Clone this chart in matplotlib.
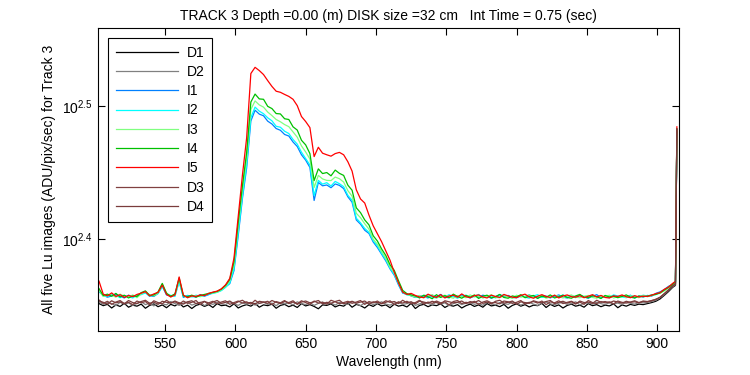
import numpy as np
import matplotlib
matplotlib.use("Agg")
import matplotlib.pyplot as plt
from matplotlib.ticker import FixedLocator, NullLocator, FixedFormatter

plt.rcParams['font.family'] = ['Liberation Sans', 'DejaVu Sans']
plt.rcParams['mathtext.fontset'] = 'custom'
plt.rcParams['mathtext.rm'] = 'Liberation Sans'
plt.rcParams['mathtext.it'] = 'Liberation Sans'
plt.rcParams['mathtext.bf'] = 'Liberation Sans'

# Wavelength grid (nm): 503 ... 911 every 3 nm, then 913 and 914
wavelength = np.append(np.arange(503, 913, 3), [913, 914])

# Series values (ADU/pix/sec)
D1 = [
224.6, 223.8, 224.3, 222.9, 224.1, 223.5, 224.7, 223.2, 224.0, 223.6,
224.4, 222.8, 223.9, 224.5, 223.4, 224.1, 223.0, 224.3, 223.7, 224.8,
223.3, 224.0, 222.7, 223.9, 224.4, 223.5, 224.2, 223.1, 224.6, 223.8,
224.0, 223.3, 224.5, 222.9, 223.7, 224.2, 223.6, 224.7, 223.2, 224.1,
223.8, 224.4, 222.8, 223.9, 224.3, 223.4, 224.0, 223.1, 224.6, 223.7,
224.2, 223.5, 222.6, 224.1, 223.9, 224.5, 223.3, 224.0, 223.6, 224.8,
223.2, 224.3, 223.8, 222.9, 224.2, 223.5, 224.6, 223.7, 224.1, 223.0,
224.4, 223.6, 224.0, 223.3, 224.7, 222.7, 223.9, 224.3, 223.4, 224.1,
223.8, 224.5, 223.1, 224.0, 223.6, 224.2, 222.9, 223.8, 224.4, 223.5,
224.1, 223.2, 224.6, 223.7, 224.0, 223.4, 224.3, 222.8, 223.9, 224.5,
223.6, 224.2, 223.3, 224.0, 223.8, 224.7, 223.1, 224.3, 223.5, 224.1,
222.9, 223.9, 224.4, 223.6, 224.0, 223.2, 224.6, 223.8, 224.2, 223.4,
224.0, 223.7, 224.5, 223.0, 224.1, 223.6, 224.3, 223.9, 224.4, 224.2,
224.6, 225.0, 225.5, 226.4, 227.8, 229.3, 231.0, 231.8, 302.0]

D2 = [
225.2, 224.3, 225.0, 224.6, 223.8, 225.1, 224.4, 224.9, 223.9, 224.7,
225.3, 224.2, 224.8, 223.7, 225.0, 224.5, 224.1, 225.4, 224.6, 223.9,
224.8, 225.2, 224.0, 224.6, 225.1, 223.8, 224.7, 224.3, 225.0, 224.5,
224.2, 225.3, 224.6, 223.9, 224.9, 224.4, 225.1, 224.0, 224.7, 225.2,
224.3, 224.8, 223.8, 225.0, 224.5, 224.9, 224.1, 225.3, 224.6, 224.2,
225.0, 223.9, 224.7, 225.2, 224.4, 224.8, 224.0, 225.1, 224.5, 224.3,
225.4, 224.6, 223.8, 224.9, 225.0, 224.2, 224.7, 225.3, 224.4, 224.0,
224.8, 225.1, 224.3, 224.6, 225.2, 223.9, 224.5, 225.0, 224.7, 224.1,
225.3, 224.4, 224.9, 223.8, 224.6, 225.1, 224.2, 224.8, 225.0, 224.3,
224.7, 223.9, 225.2, 224.5, 224.1, 225.0, 224.6, 224.3, 225.3, 224.8,
224.0, 224.7, 225.1, 224.4, 223.9, 224.9, 225.2, 224.5, 224.2, 224.8,
225.0, 224.3, 224.6, 225.3, 224.1, 224.7, 224.9, 224.4, 225.1, 224.6,
224.2, 225.0, 224.5, 224.8, 224.3, 225.2, 224.7, 224.4, 225.0, 224.9,
225.0, 225.4, 225.9, 226.9, 228.1, 229.7, 231.3, 232.0, 302.5]

I1 = [
229.2, 227.9, 227.1, 227.6, 228.3, 227.5, 226.8, 227.9, 227.3, 227.7,
228.5, 229.0, 227.7, 227.4, 228.6, 231.6, 228.0, 227.6, 227.9, 233.6,
227.0, 227.8, 227.4, 227.2, 228.1, 227.5, 228.1, 228.9, 229.2, 229.9,
231.2, 232.5, 237.8, 252.6, 269.4, 284.0, 308.1, 313.9, 311.8, 310.9,
308.0, 306.5, 304.1, 303.2, 301.0, 300.2, 297.1, 294.8, 290.6, 287.9,
284.3, 268.5, 277.0, 275.4, 275.8, 274.5, 276.3, 275.6, 274.1, 270.2,
267.7, 259.6, 257.7, 255.0, 253.6, 249.9, 247.5, 244.6, 241.8, 238.5,
235.9, 232.0, 228.7, 228.3, 227.6,
227.0, 227.7, 227.4, 226.8, 227.9, 227.3, 228.2, 227.1, 226.9, 227.6,
227.2, 228.0, 227.4, 226.8, 227.7, 227.1, 227.9, 227.5, 226.7, 227.3,
228.1, 227.2, 227.8, 227.0, 226.9, 227.6, 227.3, 228.0, 227.2, 226.8,
227.7, 227.5, 226.9, 227.4, 228.0, 227.1, 226.8, 227.6, 227.3, 227.9,
227.2, 226.7, 227.5, 228.1, 227.0, 227.4, 226.9, 227.8, 227.3, 227.6,
227.1, 227.9, 226.8, 227.5, 227.2,
227.8, 227.5, 228.6, 229.2, 230.1, 231.4, 232.1, 232.9, 301.0]

I2 = [
229.5, 227.6, 227.3, 228.2, 227.8, 226.9, 227.7, 227.4, 226.8, 227.9,
228.1, 228.8, 227.4, 228.0, 228.5, 231.2, 228.3, 227.8, 227.4, 233.2,
227.3, 227.6, 227.2, 227.9, 227.5, 227.6, 228.3, 228.6, 229.0, 229.7,
231.0, 232.8, 238.6, 253.8, 270.5, 285.6, 309.9, 315.6, 313.4, 312.0,
309.8, 308.2, 305.3, 304.8, 302.7, 301.5, 298.4, 296.0, 291.9, 288.7,
285.5, 270.8, 278.0, 276.2, 276.9, 275.3, 277.5, 276.4, 275.0, 270.9,
268.6, 260.4, 258.3, 255.8, 254.1, 250.5, 248.2, 245.0, 242.3, 238.8,
236.2, 232.3, 228.9, 228.0, 227.9,
227.4, 226.9, 227.7, 228.0, 227.1, 226.8, 227.6, 227.2, 228.1, 227.3,
226.7, 227.5, 227.9, 227.0, 227.4, 228.2, 226.9, 227.3, 227.6, 226.8,
227.7, 228.0, 227.2, 226.9, 227.4, 227.8, 227.1, 226.7, 227.6, 228.1,
227.0, 227.4, 226.8, 227.7, 227.3, 228.0, 227.1, 227.5, 226.9, 227.8,
227.3, 227.0, 227.9, 227.4, 226.8, 227.5, 227.1, 228.0, 227.6, 227.2,
226.9, 227.7, 227.5, 227.1, 227.9,
227.6, 228.0, 228.1, 229.0, 229.8, 231.2, 232.4, 233.1, 302.0]

I3 = [
229.8, 227.4, 228.0, 227.9, 227.1, 228.3, 227.5, 227.2, 228.0, 226.9,
228.4, 229.2, 228.1, 227.6, 228.8, 232.1, 228.9, 227.2, 227.9, 234.1,
227.9, 226.9, 227.5, 227.6, 227.3, 228.0, 228.7, 228.8, 229.1, 230.0,
231.4, 233.6, 240.4, 256.9, 273.6, 289.0, 314.3, 319.0, 316.8, 315.6,
312.9, 311.0, 308.9, 307.7, 306.2, 305.1, 302.3, 299.6, 295.1, 292.0,
288.5, 274.6, 280.4, 278.7, 278.0, 277.9, 279.6, 278.8, 277.2, 273.1,
270.5, 262.6, 260.6, 257.9, 255.5, 251.1, 248.9, 245.8, 242.9, 239.3,
236.9, 232.9, 229.2, 228.2, 227.7,
227.1, 227.8, 226.9, 227.5, 228.1, 226.8, 227.4, 227.9, 227.2, 226.7,
227.8, 227.3, 226.9, 228.0, 227.2, 227.6, 226.8, 227.4, 228.1, 227.0,
226.9, 227.7, 227.3, 226.6, 227.9, 227.1, 227.5, 228.0, 226.9, 227.3,
227.8, 226.7, 227.2, 227.9, 227.4, 226.8, 227.6, 228.0, 227.1, 226.9,
227.5, 227.8, 227.0, 226.7, 227.6, 227.2, 227.9, 226.8, 227.3, 227.7,
227.0, 227.6, 227.4, 226.9, 227.8,
227.3, 227.7, 228.4, 228.6, 229.6, 230.7, 232.0, 232.8, 303.0]

I4 = [
230.5, 227.8, 228.3, 227.5, 228.6, 227.2, 227.9, 226.8, 227.6, 227.4,
228.9, 229.6, 227.8, 228.0, 229.2, 232.6, 228.6, 227.5, 228.4, 234.8,
227.6, 227.3, 227.9, 227.1, 227.8, 228.2, 228.5, 229.0, 229.4, 230.3,
231.8, 234.2, 241.5, 258.5, 275.4, 291.7, 318.4, 322.8, 320.1, 319.9,
316.0, 314.8, 312.1, 311.9, 309.3, 308.9, 305.0, 303.3, 298.0, 295.6,
291.2, 277.9, 283.6, 281.3, 281.8, 280.2, 283.0, 281.4, 280.4, 275.7,
273.3, 265.1, 262.9, 259.6, 257.4, 252.6, 250.3, 246.9, 244.1, 240.2,
237.9, 233.7, 229.8, 228.5, 228.0,
227.6, 226.8, 227.9, 227.3, 226.5, 228.1, 227.0, 227.7, 226.9, 228.3,
227.4, 226.7, 227.8, 227.1, 228.0, 226.6, 227.5, 227.9, 226.8, 227.3,
228.2, 227.0, 226.7, 227.6, 227.2, 228.1, 226.9, 227.4, 227.8, 226.6,
227.5, 227.1, 228.0, 226.8, 227.3, 227.9, 227.0, 226.7, 227.6, 228.2,
227.1, 226.9, 227.7, 227.3, 226.6, 227.8, 227.2, 227.5, 226.9, 227.4,
228.0, 227.1, 226.8, 227.6, 227.3,
227.5, 227.9, 228.2, 228.8, 229.9, 231.0, 232.2, 233.2, 304.0]

I5 = [
233.5, 228.3, 227.6, 228.8, 227.4, 228.1, 227.0, 227.8, 227.3, 228.2,
228.7, 229.3, 227.6, 228.4, 229.0, 231.9, 228.2, 227.2, 228.0, 235.2,
227.9, 226.9, 227.6, 227.4, 228.0, 227.7, 228.6, 229.1, 229.5, 230.4,
232.0, 234.6, 243.0, 261.0, 280.5, 299.2, 334.5, 338.1, 336.2, 333.9,
330.4, 327.1, 324.4, 323.8, 322.6, 321.5, 319.9, 316.4, 310.5, 307.8,
304.6, 289.7, 294.4, 291.4, 290.6, 289.9, 291.2, 291.8, 290.6, 287.1,
282.5, 273.5, 269.2, 267.3, 261.8, 257.0, 253.5, 250.0, 246.0, 242.1,
237.1, 232.8, 229.1, 228.2, 228.6,
227.8, 227.2, 226.9, 228.3, 227.5, 227.0, 228.1, 226.8, 227.6, 227.9,
227.1, 228.4, 227.3, 226.9, 227.7, 228.0, 227.2, 226.8, 227.9, 227.4,
227.0, 228.2, 227.6, 227.1, 226.9, 227.8, 228.3, 227.2, 226.7, 227.5,
228.1, 227.4, 227.0, 227.9, 226.8, 227.6, 228.0, 227.3, 227.1, 227.7,
226.9, 227.5, 228.1, 227.2, 227.8, 227.0, 226.8, 227.6, 227.4, 228.0,
227.3, 226.9, 227.7, 227.2, 227.5,
227.4, 227.9, 228.5, 228.9, 230.2, 231.1, 232.6, 233.4, 305.0]

D3 = [
226.0, 224.7, 225.5, 224.3, 225.2, 225.8, 224.6, 225.1, 224.2, 225.6,
224.9, 225.4, 224.1, 225.7, 225.0, 224.5, 225.9, 224.8, 225.3, 224.4,
225.6, 224.7, 225.1, 225.8, 224.2, 225.4, 224.9, 225.5, 224.6, 225.2,
225.7, 224.3, 225.0, 225.6, 224.8, 225.3, 224.4, 225.9, 224.7, 225.1,
225.5, 224.2, 225.4, 224.9, 225.8, 224.6, 225.2, 224.5, 225.7, 225.0,
224.3, 225.6, 224.8, 225.1, 224.4, 225.9, 225.3, 224.6, 225.0, 225.5,
224.7, 225.2, 225.8, 224.3, 225.4, 224.9, 225.6, 224.5, 225.1, 225.7,
224.2, 225.3, 224.8, 225.5, 224.6, 225.0, 225.9, 224.4, 225.2, 224.7,
225.6, 224.9, 225.3, 224.1, 225.4, 225.8, 224.6, 225.1, 224.8, 225.5,
224.3, 225.2, 225.7, 224.9, 225.0, 224.5, 225.6, 225.3, 224.7, 225.1,
225.8, 224.4, 225.0, 225.4, 224.8, 225.6, 224.2, 225.3, 224.9, 225.7,
224.6, 225.1, 225.5, 224.7, 225.2, 224.3, 225.8, 225.0, 224.6, 225.4,
224.9, 225.3, 224.5, 225.6, 225.1, 224.8, 225.2, 225.7, 225.0, 225.4,
225.3, 225.8, 226.2, 227.1, 228.4, 229.9, 231.5, 232.3, 303.5]

D4 = [
225.6, 225.1, 224.4, 225.7, 224.9, 225.3, 224.5, 225.8, 225.0, 224.6,
225.4, 225.9, 224.7, 225.2, 224.3, 225.5, 225.1, 224.8, 225.6, 224.9,
224.4, 225.3, 225.7, 224.6, 225.0, 225.5, 224.2, 225.2, 225.8, 224.7,
225.1, 225.6, 224.5, 225.3, 225.9, 224.8, 225.0, 224.4, 225.5, 225.2,
224.7, 225.8, 225.1, 224.6, 225.4, 225.0, 225.7, 224.3, 225.2, 225.6,
224.9, 225.3, 225.8, 224.5, 225.1, 224.7, 225.4, 225.9, 224.6, 225.0,
225.5, 224.8, 225.2, 225.6, 224.4, 225.3, 225.0, 224.7, 225.7, 225.1,
225.4, 224.6, 225.9, 224.9, 225.3, 224.5, 225.6, 225.2, 224.8, 225.5,
225.0, 224.4, 225.7, 225.3, 224.9, 225.1, 225.6, 224.6, 225.4, 225.0,
225.8, 224.7, 225.2, 224.5, 225.5, 225.9, 224.8, 225.1, 225.6, 224.3,
225.3, 225.0, 224.7, 225.7, 225.2, 224.9, 225.4, 225.8, 224.6, 225.1,
225.5, 224.8, 225.3, 224.4, 225.6, 225.0, 225.2, 224.7, 225.9, 225.1,
225.4, 224.9, 225.6, 225.2, 224.8, 225.5, 225.1, 225.3, 224.9, 225.6,
225.4, 225.7, 226.3, 227.0, 228.5, 230.0, 231.6, 232.4, 304.0]

series_names = ['D1', 'D2', 'I1', 'I2', 'I3', 'I4', 'I5', 'D3', 'D4']
series_values = [D1, D2, I1, I2, I3, I4, I5, D3, D4]
series_colors = ['#000000', '#808080', '#0080FF', '#00FFFF', '#80FF80',
                 '#00C000', '#FF0000', '#804040', '#7A3C3C']

x_ticks = [550, 600, 650, 700, 750, 800, 850, 900]
y_tick_exponents = [2.4, 2.5]
y_tick_labels = [r'$10^{2.4}$', r'$10^{2.5}$']

title_text = 'TRACK 3 Depth =0.00 (m) DISK size =32 cm   Int Time = 0.75 (sec)'
x_label = 'Wavelength (nm)'
y_label = 'All five Lu images (ADU/pix/sec) for Track 3'

fig = plt.figure(figsize=(7.5, 3.75), dpi=100)
ax = fig.add_axes([0.1307, 0.1173, 0.7746, 0.808])

for name, vals, col in zip(series_names, series_values, series_colors):
    ax.plot(wavelength, vals, color=col, lw=0.9, label=name)

ax.set_yscale('log')
ax.set_xlim(502.3, 915.5)
ax.set_ylim(10 ** 2.3308, 10 ** 2.5586)
ax.xaxis.set_major_locator(FixedLocator(x_ticks))
ax.xaxis.set_minor_locator(NullLocator())
ax.yaxis.set_major_locator(FixedLocator([10 ** e for e in y_tick_exponents]))
ax.yaxis.set_major_formatter(FixedFormatter(y_tick_labels))
ax.yaxis.set_minor_locator(NullLocator())
ax.yaxis.set_minor_formatter(FixedFormatter([]))
ax.tick_params(direction='in', length=5, width=0.8, top=True, right=True,
               labelsize=10, pad=4)
for sp in ax.spines.values():
    sp.set_linewidth(0.8)

ax.set_title(title_text, fontsize=10, pad=6)
ax.set_xlabel(x_label, fontsize=10, labelpad=3)
ax.set_ylabel(y_label, fontsize=10, labelpad=4)

leg = ax.legend(loc='upper left', bbox_to_anchor=(0.0172, 0.967),
                fontsize=10, frameon=True, fancybox=False, framealpha=1,
                edgecolor='black', handlelength=4.5, handletextpad=0.6,
                labelspacing=0.38, borderpad=0.55, borderaxespad=0.0)
leg.get_frame().set_linewidth(0.8)

fig.savefig('out.png', dpi=100, facecolor='white')
